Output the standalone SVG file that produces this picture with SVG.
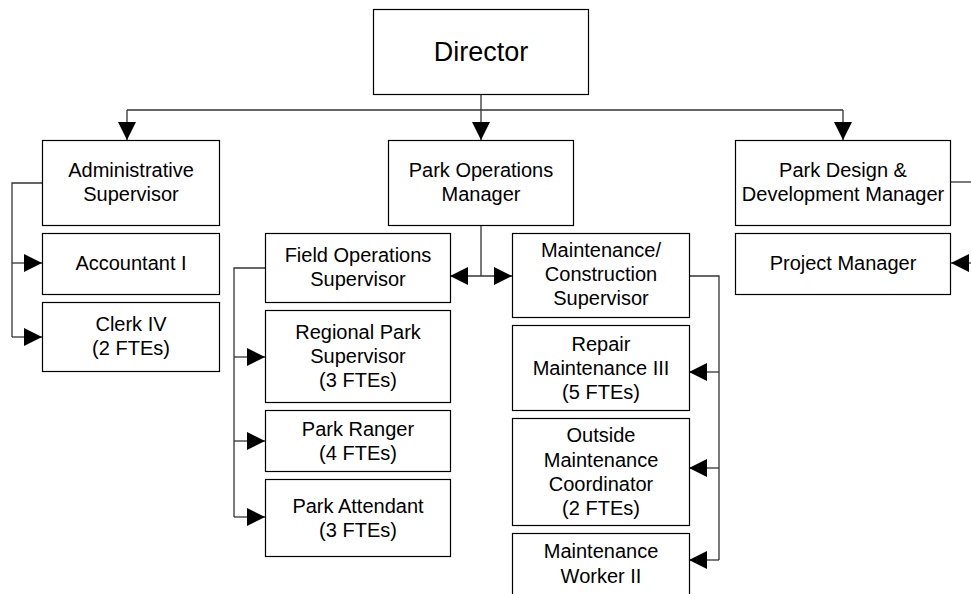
<svg xmlns="http://www.w3.org/2000/svg" width="971" height="594" viewBox="0 0 971 594">
<style>
.box{fill:#fff;stroke:#000;stroke-width:1.2}
.t{font-family:"Liberation Sans",Arial,sans-serif;font-size:20px;fill:#000;text-anchor:middle}
.big{font-size:27px}
.c{fill:none;stroke:#333;stroke-width:1.3}
</style>
<defs>
<marker id="arr" viewBox="0 0 18 18" markerWidth="18" markerHeight="18" refX="18" refY="9" orient="auto-start-reverse" markerUnits="userSpaceOnUse">
<path d="M0,0 L18,9 L0,18 z" fill="#000"/>
</marker>
</defs>
<rect width="971" height="594" fill="#fff"/>
<g id="connectors">
<path class="c" d="M481,94 V110 M127,110 H843"/>
<path class="c" d="M127,110 V140" marker-end="url(#arr)"/>
<path class="c" d="M481,110 V140" marker-end="url(#arr)"/>
<path class="c" d="M843,110 V140" marker-end="url(#arr)"/>
<path class="c" d="M42,183 H12 V337"/>
<path class="c" d="M12,263 H42" marker-end="url(#arr)"/>
<path class="c" d="M12,337 H42" marker-end="url(#arr)"/>
<path class="c" d="M481,225 V276"/>
<path class="c" d="M450,276 H512" marker-start="url(#arr)" marker-end="url(#arr)"/>
<path class="c" d="M265,268 H234 V517"/>
<path class="c" d="M234,357 H265" marker-end="url(#arr)"/>
<path class="c" d="M234,441 H265" marker-end="url(#arr)"/>
<path class="c" d="M234,517 H265" marker-end="url(#arr)"/>
<path class="c" d="M689,276 H719 V560"/>
<path class="c" d="M719,372 H689" marker-end="url(#arr)"/>
<path class="c" d="M719,468 H689" marker-end="url(#arr)"/>
<path class="c" d="M719,560 H689" marker-end="url(#arr)"/>
<path class="c" d="M950,182 H975"/>
<path class="c" d="M975,263 H951" marker-end="url(#arr)"/>
</g>
<g id="director"><rect class="box" x="373.5" y="9.5" width="215" height="85"/><text class="t big" x="481" y="61">Director</text></g>
<g id="admin-supervisor"><rect class="box" x="42.5" y="140.5" width="177" height="85"/><text class="t" x="131" y="177">Administrative</text><text class="t" x="131" y="201">Supervisor</text></g>
<g id="park-ops-manager"><rect class="box" x="388.5" y="140.5" width="185" height="85"/><text class="t" x="481" y="177">Park Operations</text><text class="t" x="481" y="201">Manager</text></g>
<g id="park-design-manager"><rect class="box" x="735.5" y="140.5" width="215" height="85"/><text class="t" x="843" y="177">Park Design &amp;</text><text class="t" x="843" y="201">Development Manager</text></g>
<g id="accountant"><rect class="box" x="42.5" y="233.5" width="177" height="61"/><text class="t" x="131" y="270">Accountant I</text></g>
<g id="clerk"><rect class="box" x="42.5" y="302.5" width="177" height="69"/><text class="t" x="131" y="331">Clerk IV</text><text class="t" x="131" y="355">(2 FTEs)</text></g>
<g id="project-manager"><rect class="box" x="735.5" y="233.5" width="215" height="61"/><text class="t" x="843" y="270">Project Manager</text></g>
<g id="field-ops"><rect class="box" x="265.5" y="233.5" width="185" height="69"/><text class="t" x="358" y="262">Field Operations</text><text class="t" x="358" y="286">Supervisor</text></g>
<g id="regional-park"><rect class="box" x="265.5" y="310.5" width="185" height="92"/><text class="t" x="358" y="338.5">Regional Park</text><text class="t" x="358" y="362.5">Supervisor</text><text class="t" x="358" y="386.5">(3 FTEs)</text></g>
<g id="park-ranger"><rect class="box" x="265.5" y="410.5" width="185" height="61"/><text class="t" x="358" y="436">Park Ranger</text><text class="t" x="358" y="460">(4 FTEs)</text></g>
<g id="park-attendant"><rect class="box" x="265.5" y="479.5" width="185" height="77"/><text class="t" x="358" y="512.5">Park Attendant</text><text class="t" x="358" y="536.5">(3 FTEs)</text></g>
<g id="maint-construction"><rect class="box" x="512.5" y="233.5" width="177" height="84"/><text class="t" x="601" y="257">Maintenance/</text><text class="t" x="601" y="281">Construction</text><text class="t" x="601" y="305">Supervisor</text></g>
<g id="repair-maint"><rect class="box" x="512.5" y="325.5" width="177" height="85"/><text class="t" x="601" y="350.5">Repair</text><text class="t" x="601" y="374.5">Maintenance III</text><text class="t" x="601" y="398.5">(5 FTEs)</text></g>
<g id="outside-maint"><rect class="box" x="512.5" y="418.5" width="177" height="107"/><text class="t" x="601" y="442">Outside</text><text class="t" x="601" y="466.5">Maintenance</text><text class="t" x="601" y="491">Coordinator</text><text class="t" x="601" y="515">(2 FTEs)</text></g>
<g id="maint-worker"><rect class="box" x="512.5" y="533.5" width="177" height="80"/><text class="t" x="601" y="558">Maintenance</text><text class="t" x="601" y="582.5">Worker II</text></g>
</svg>
